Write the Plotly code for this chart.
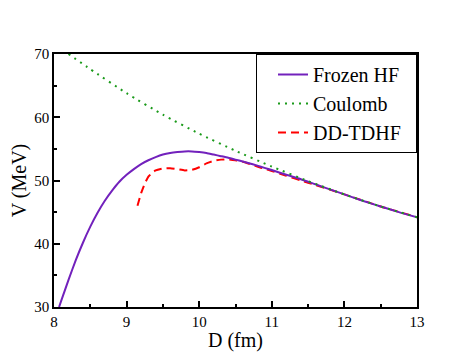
import plotly.graph_objects as go

# Frozen HF potential
hf_D = [8.07, 8.1, 8.2, 8.3, 8.4, 8.5, 8.6, 8.7, 8.8, 8.9, 9.0, 9.1, 9.2, 9.3, 9.4, 9.5, 9.6, 9.7, 9.8, 9.9,
        10.0, 10.1, 10.2, 10.3, 10.4, 10.5, 10.6, 10.7, 10.8, 10.9, 11.0, 11.2, 11.4, 11.6, 11.8, 12.0, 12.25, 12.5, 12.75, 13.0]
hf_V = [30.0, 31.0, 34.3, 37.4, 40.2, 42.7, 44.9, 46.8, 48.4, 49.8, 50.9, 51.8, 52.6, 53.2, 53.7, 54.1, 54.35, 54.5, 54.6, 54.6,
        54.5, 54.35, 54.1, 53.85, 53.6, 53.3, 53.0, 52.7, 52.35, 52.0, 51.65, 50.9, 50.2, 49.4, 48.6, 47.8, 46.8, 45.9, 45.0, 44.2]

# Coulomb potential
coul_D = [8.2, 8.5, 9.0, 9.5, 10.0, 10.5, 11.0, 11.5, 12.0, 12.5, 13.0]
coul_V = [70.0, 67.6, 63.8, 60.4, 57.4, 54.7, 52.2, 49.9, 47.8, 45.9, 44.2]

# DD-TDHF potential
dd_D = [9.15, 9.2, 9.25, 9.3, 9.35, 9.4, 9.5, 9.6, 9.7, 9.8, 9.9, 10.0, 10.1, 10.2, 10.3, 10.4, 10.5, 10.6, 10.7, 10.8,
        10.9, 11.0, 11.2, 11.4, 11.6, 11.8, 12.0, 12.5, 13.0]
dd_V = [46.0, 48.0, 49.5, 50.6, 51.2, 51.6, 51.9, 51.95, 51.8, 51.6, 51.7, 52.1, 52.7, 53.1, 53.3, 53.35, 53.2, 52.95, 52.6, 52.2,
        51.85, 51.5, 50.75, 50.0, 49.3, 48.55, 47.8, 45.9, 44.2]

x_ticks = [8, 9, 10, 11, 12, 13]
y_ticks = [30, 40, 50, 60, 70]

FONT = "Liberation Serif"
PAD = "\u00a0\u00a0"

fig = go.Figure()
fig.add_trace(go.Scatter(x=dd_D, y=dd_V, mode="lines", name="DD-TDHF" + PAD, legendrank=3,
                         line=dict(color="#ff0000", width=2, dash="8px,5px", shape="spline", smoothing=0.5)))
fig.add_trace(go.Scatter(x=hf_D, y=hf_V, mode="lines", name="Frozen HF" + PAD, legendrank=1,
                         line=dict(color="#7221bc", width=2, shape="spline", smoothing=0.5)))
fig.add_trace(go.Scatter(x=coul_D, y=coul_V, mode="lines", name="Coulomb" + PAD, legendrank=2,
                         line=dict(color="#1a9a1a", width=2, dash="2px,5px", shape="spline", smoothing=0.5)))

axis_common = dict(
    showline=True, linecolor="black", linewidth=1.5, mirror=True,
    ticks="inside", ticklen=6, tickwidth=1.5, tickcolor="black",
    showgrid=False, zeroline=False, automargin=False,
    tickfont=dict(family=FONT, size=15, color="black"),
)

fig.update_xaxes(range=[8, 13], tickvals=x_ticks,
                 minor=dict(dtick=0.5, ticks="inside", ticklen=3, tickwidth=1.5, tickcolor="black"),
                 title=dict(text="D (fm)", font=dict(family=FONT, size=20, color="black"), standoff=4),
                 **axis_common)
fig.update_yaxes(range=[30, 70], tickvals=y_ticks,
                 minor=dict(dtick=5, ticks="inside", ticklen=3, tickwidth=1.5, tickcolor="black"),
                 title=dict(text="V (MeV)", font=dict(family=FONT, size=20, color="black"), standoff=6),
                 **axis_common)

# page body adds an 8px offset; compensate in margins
fig.update_layout(
    width=469, height=362,
    margin=dict(l=46, r=60, t=46, b=63),
    paper_bgcolor="white", plot_bgcolor="white",
    font=dict(family=FONT, color="black"),
    showlegend=True,
    legend=dict(x=1, y=1, xanchor="right", yanchor="top",
                bgcolor="white", bordercolor="black", borderwidth=1,
                font=dict(family=FONT, size=20, color="black"),
                tracegroupgap=0, itemwidth=30, indentation=16),
)

fig.write_html("out.html")
